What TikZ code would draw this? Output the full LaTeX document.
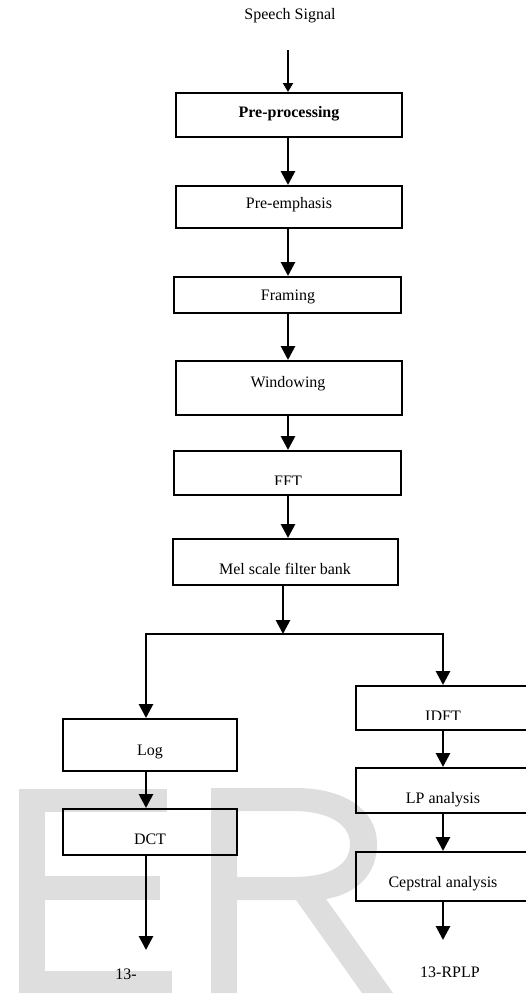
\documentclass[tikz,border=0pt]{standalone}
\usepackage{fontspec}
\setmainfont{Liberation Serif}
\usetikzlibrary{arrows.meta}
\definecolor{wm}{RGB}{222,222,222}
\begin{document}
\begin{tikzpicture}[x=1pt,y=-1pt,
  box/.style={draw=black,line width=2pt,inner sep=0pt},
  txt/.style={font=\fontsize{16}{19}\selectfont,anchor=base,inner sep=0pt},
  arr/.style={line width=2.8pt,-{Triangle[width=14pt,length=14pt]}},
  lin/.style={line width=2.8pt}]
\useasboundingbox (0,0) rectangle (526,998);
\clip (0,0) rectangle (526,998);
% watermark
\fill[wm] (19,789) rectangle (45,993);
\fill[wm] (19,789) rectangle (167,812);
\fill[wm] (19,876) rectangle (160,900);
\fill[wm] (19,971) rectangle (172,993);
\fill[wm,even odd rule] (211,993) -- (211,788) -- (295,788)
  .. controls (345,788) and (377,810) .. (377,844)
  .. controls (377,876) and (355,894) .. (326,899)
  -- (393,993) -- (362,993) -- (296,900) -- (237,900) -- (237,993) -- cycle
  (237,811) -- (293,811) .. controls (330,811) and (350,825) .. (350,844)
  .. controls (350,865) and (330,877) .. (293,877) -- (237,877) -- cycle;
% axes
\coordinate (cx) at (288,0);
\coordinate (mx) at (283,0);
\coordinate (lx) at (146,0);
\coordinate (rx) at (443,0);
% boxes
\node[box,minimum width=226pt,minimum height=44pt] (b1) at (289,115) {};
\node[box,minimum width=226pt,minimum height=42pt] (b2) at (289,207) {};
\node[box,minimum width=227pt,minimum height=36pt] (b3) at (287.5,295) {};
\node[box,minimum width=226pt,minimum height=54pt] (b4) at (289,388) {};
\node[box,minimum width=227pt,minimum height=44pt] (b5) at (287.5,473) {};
\node[box,minimum width=225pt,minimum height=46pt] (b6) at (285.5,562) {};
\node[box,minimum width=174pt,minimum height=52pt] (log) at (150,745) {};
\node[box,minimum width=174pt,minimum height=46pt] (dct) at (150,832) {};
\node[box,minimum width=184pt,minimum height=44pt] (idft) at (448,708) {};
\node[box,minimum width=184pt,minimum height=45pt] (lp) at (448,790.5) {};
\node[box,minimum width=184pt,minimum height=49pt] (cep) at (448,876.5) {};
% texts
\node[txt] (sig) at (290,20) {Speech Signal};
\node[txt,font=\fontsize{16}{19}\selectfont\bfseries] (t1) at (289,117) {Pre-processing};
\node[txt] (t2) at (289,208) {Pre-emphasis};
\node[txt] (t3) at (288,300) {Framing};
\node[txt] (t4) at (288,387) {Windowing};
\begin{scope}
\clip (176,452) rectangle (400,484.3);
\node[txt] (t5) at (288,486) {FFT};
\end{scope}
\node[txt] (t6) at (285,574) {Mel scale filter bank};
\node[txt] (tl) at (150,755) {Log};
\node[txt] (td) at (150,844) {DCT};
\begin{scope}
\clip (357,687) rectangle (525,719.3);
\node[txt] (ti) at (443,721) {IDFT};
\end{scope}
\node[txt] (tp) at (443,803) {LP analysis};
\node[txt] (tc) at (443,887) {Cepstral analysis};
\node[txt] (o1) at (126,979) {13-};
\node[txt] (o2) at (450,977) {13-RPLP};
% connectors
\coordinate (s0) at (288,50);
\coordinate (j) at (283,634);
\coordinate (e1) at (146,950);
\coordinate (e2) at (443,940);
\draw[arr,line width=2.2pt,-{Triangle[width=10pt,length=9pt]}] (s0) -- (b1.north -| cx);
\draw[arr] (b1.south -| cx) -- (b2.north -| cx);
\draw[arr] (b2.south -| cx) -- (b3.north -| cx);
\draw[arr] (b3.south -| cx) -- (b4.north -| cx);
\draw[arr] (b4.south -| cx) -- (b5.north -| cx);
\draw[arr] (b5.south -| cx) -- (b6.north -| cx);
\draw[arr] (b6.south -| mx) -- (j);
\draw[lin] (lx |- j) -- (rx |- j);
\draw[arr] ([yshift=1.4pt]lx |- j) -- (log.north -| lx);
\draw[arr] ([yshift=1.4pt]rx |- j) -- (idft.north -| rx);
\draw[arr] (log.south -| lx) -- (dct.north -| lx);
\draw[arr] (dct.south -| lx) -- (e1);
\draw[arr] (idft.south -| rx) -- (lp.north -| rx);
\draw[arr] (lp.south -| rx) -- (cep.north -| rx);
\draw[arr] (cep.south -| rx) -- (e2);
\end{tikzpicture}
\end{document}
